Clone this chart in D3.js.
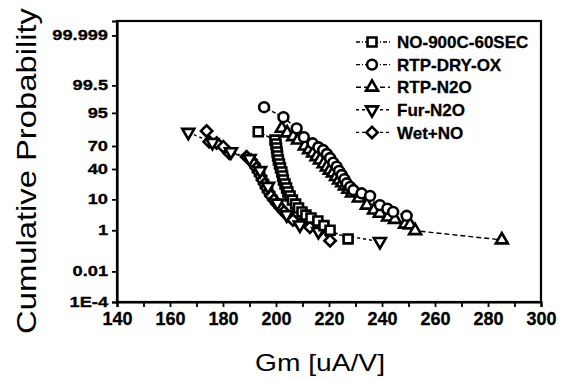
<!DOCTYPE html>
<html>
<head>
<meta charset="utf-8">
<script src="https://cdn.jsdelivr.net/npm/d3@7"></script>
<style>
  body { margin: 0; background: #fff; }
  svg { display: block; font-family: "Liberation Sans", Arial, sans-serif; }
</style>
</head>
<body>
<svg id="drawing_region"></svg>
<script>
// ---- data (Gm in uA/V, probability in %) ----
const seriesNames = ["NO-900C-60SEC", "RTP-DRY-OX", "RTP-N2O", "Fur-N2O", "Wet+NO"];

const no900Gm   = [193.3, 199.6, 200.0, 200.2, 200.4, 200.6, 200.9, 201.3, 201.7, 202.2, 202.5, 202.8, 203.4, 204.0, 204.5, 205.3, 206.2, 207.4, 208.5, 209.8, 211.3, 213.2, 215.8, 218.1, 220.4, 227.2];
const no900Prob = [84.3, 76.6, 72.3, 67.6, 62.6, 57.4, 52.0, 46.6, 41.3, 36.1, 31.2, 26.6, 22.3, 18.5, 15.1, 12.2, 9.6, 7.5, 5.8, 4.4, 3.5, 2.8, 2.2, 1.5, 1.0, 0.44];

const dryGm   = [195.5, 202.8, 207.8, 210.5, 213.8, 216.0, 217.8, 219.2, 220.4, 221.6, 222.9, 223.8, 224.8, 225.8, 226.7, 228.0, 229.2, 232.3, 235.5, 239.2, 242.0, 244.2, 249.3];
const dryProb = [96.7, 93.3, 86.9, 79.5, 73.1, 68.5, 65.1, 60.0, 54.7, 48.5, 43.0, 37.5, 32.4, 27.5, 23.0, 19.5, 16.7, 14.1, 12.2, 7.0, 5.5, 4.4, 3.3];

const rtpN2oGm   = [202.2, 204.2, 206.5, 208.3, 210.9, 212.5, 214.0, 215.3, 216.6, 218.0, 219.2, 220.3, 221.5, 222.7, 223.8, 225.0, 226.0, 227.3, 228.7, 231.3, 234.3, 237.0, 239.2, 242.3, 244.9, 248.7, 250.6, 252.5, 285.2];
const rtpN2oProb = [86.9, 83.3, 80.0, 76.6, 70.0, 65.5, 61.3, 56.5, 52.0, 47.0, 42.6, 38.5, 34.9, 30.5, 26.6, 23.5, 20.4, 17.3, 14.3, 10.8, 7.0, 5.0, 4.0, 3.0, 2.5, 1.7, 1.6, 0.96, 0.40];

const furN2oGm   = [166.9, 176.0, 183.0, 190.0, 194.0, 197.0, 200.5, 204.0, 209.0, 216.0, 239.2];
const furN2oProb = [83.8, 74.0, 63.0, 54.0, 38.0, 20.0, 8.0, 3.6, 1.6, 0.9, 0.34];

const wetGm   = [173.8, 174.8, 177.6, 180.1, 182.4, 188.9, 190.6, 191.7, 192.6, 193.4, 194.2, 194.9, 195.7, 196.4, 197.2, 198.1, 199.2, 200.4, 201.7, 203.0, 204.5, 206.4, 209.1, 212.8, 216.6, 220.4];
const wetProb = [84.9, 74.9, 73.4, 69.2, 60.9, 56.4, 52.0, 46.6, 41.3, 36.1, 31.2, 26.6, 22.3, 18.5, 15.1, 12.2, 9.6, 7.5, 5.8, 4.4, 3.3, 2.4, 1.7, 1.3, 1.0, 0.37];

const xTicks = [140, 160, 180, 200, 220, 240, 260, 280, 300];
const yTicks = [1e-4, 0.01, 1, 10, 40, 70, 95, 99.5, 99.999];
const yTickLabels = ["1E-4", "0.01", "1", "10", "40", "70", "95", "99.5", "99.999"];

// inverse normal CDF (Acklam)
function probit(p) {
    const a = [-3.969683028665376e+01, 2.209460984245205e+02, -2.759285104469687e+02, 1.383577518672690e+02, -3.066479806614716e+01, 2.506628277459239e+00];
    const b = [-5.447609879822406e+01, 1.615858368580409e+02, -1.556989798598866e+02, 6.680131188771972e+01, -1.328068155288572e+01];
    const c = [-7.784894002430293e-03, -3.223964580411365e-01, -2.400758277161838e+00, -2.549671033907137e+00, 4.374664141464968e+00, 2.938163982698783e+00];
    const d = [7.784695709041462e-03, 3.224671290700398e-01, 2.445134137142996e+00, 3.754408661907416e+00];
    const pl = 0.02425;
    if (p < pl) {
        const q = Math.sqrt(-2 * Math.log(p));
        return (((((c[0]*q+c[1])*q+c[2])*q+c[3])*q+c[4])*q+c[5]) / ((((d[0]*q+d[1])*q+d[2])*q+d[3])*q+1);
    }
    if (p <= 1 - pl) {
        const q = p - 0.5, r = q * q;
        return (((((a[0]*r+a[1])*r+a[2])*r+a[3])*r+a[4])*r+a[5])*q / (((((b[0]*r+b[1])*r+b[2])*r+b[3])*r+b[4])*r+1);
    }
    const q = Math.sqrt(-2 * Math.log(1 - p));
    return -(((((c[0]*q+c[1])*q+c[2])*q+c[3])*q+c[4])*q+c[5]) / ((((d[0]*q+d[1])*q+d[2])*q+d[3])*q+1);
}

const series = [
    { name: seriesNames[0], gm: no900Gm,  prob: no900Prob,  shape: 'square',   dash: '4,2,1,2' },
    { name: seriesNames[1], gm: dryGm,    prob: dryProb,    shape: 'circle',   dash: '4,2,1,2' },
    { name: seriesNames[2], gm: rtpN2oGm, prob: rtpN2oProb, shape: 'triangle', dash: '5,3' },
    { name: seriesNames[3], gm: furN2oGm, prob: furN2oProb, shape: 'down',     dash: '3,3' },
    { name: seriesNames[4], gm: wetGm,    prob: wetProb,    shape: 'diamond',  dash: '3,3' }
];

class ProbPlot {

    constructor( config, data ) {
        this.config = config;
        this.data = data;
        this.init();
    }

    init() {
        let self = this;
        const m = self.config.margin;

        self.svg = d3.select( self.config.parent )
            .attr('width', self.config.width)
            .attr('height', self.config.height);

        self.inner_width = self.config.width - m.left - m.right;
        self.inner_height = self.config.height - m.top - m.bottom;

        self.chart = self.svg.append('g')
            .attr('transform', `translate(${m.left}, ${m.top})`);

        self.xscale = d3.scaleLinear()
            .domain([140, 300])
            .range([0, self.inner_width]);

        // probability axis: linear in the normal quantile
        const zmax = -probit(1e-6);
        self.zscale = d3.scaleLinear()
            .domain([-zmax, zmax])
            .range([self.inner_height, 0]);
        self.yscale = p => self.zscale( probit(p / 100) );

        self.xaxis = d3.axisBottom( self.xscale )
            .tickValues(d3.range(140, 301, 10))
            .tickSize(5)
            .tickPadding(5)
            .tickFormat(d => xTicks.includes(d) ? d : '');
        self.xaxis_group = self.chart.append('g')
            .attr('transform', `translate(0, ${self.inner_height})`);

        self.yaxis = d3.axisLeft( self.zscale )
            .tickValues(yTicks.map(p => probit(p / 100)))
            .tickSize(5)
            .tickPadding(4)
            .tickFormat((d, i) => yTickLabels[i]);
        self.yaxis_group = self.chart.append('g');

        // frame
        self.chart.append('rect')
            .attr('width', self.inner_width)
            .attr('height', self.inner_height)
            .attr('fill', 'none')
            .attr('stroke', '#000')
            .attr('stroke-width', 2.2);

        self.svg.append('text')
            .attr('x', 320)
            .attr('y', 371)
            .attr('text-anchor', 'middle')
            .attr('font-size', '24px')
            .attr('textLength', 130)
            .attr('lengthAdjust', 'spacingAndGlyphs')
            .text('Gm [uA/V]');

        self.svg.append('text')
            .attr('transform', 'translate(36, 171) rotate(-90)')
            .attr('text-anchor', 'middle')
            .attr('font-size', '28px')
            .attr('textLength', 326)
            .attr('lengthAdjust', 'spacingAndGlyphs')
            .text('Cumulative Probability');
    }

    marker( sel, shape ) {
        const sym = {
            square: d3.symbol(d3.symbolSquare, 80),
            circle: d3.symbol(d3.symbolCircle, 76),
            triangle: d3.symbol(d3.symbolTriangle, 62),
            down: d3.symbol(d3.symbolTriangle, 62),
            diamond: d3.symbol(d3.symbolSquare, 64)
        }[shape];
        const rot = shape === 'down' ? 180 : shape === 'diamond' ? 45 : 0;
        sel.append('path')
            .attr('d', sym())
            .attr('transform', d => `translate(${d[0]}, ${d[1]}) rotate(${rot})`)
            .attr('fill', '#fff')
            .attr('stroke', '#000')
            .attr('stroke-width', 2.6);
    }

    update() {
        let self = this;
        self.render();
    }

    render() {
        let self = this;

        const line = d3.line()
            .x( d => self.xscale(d[0]) )
            .y( d => self.yscale(d[1]) );

        self.data.forEach( s => {
            const pts = s.gm.map((g, i) => [g, s.prob[i]]);
            self.chart.append('path')
                .attr('d', line(pts))
                .attr('fill', 'none')
                .attr('stroke', '#000')
                .attr('stroke-width', 1.4)
                .attr('stroke-dasharray', s.dash);
        });

        // markers drawn on top, last series underneath first
        self.data.slice().reverse().forEach( s => {
            const g = self.chart.append('g');
            const pts = s.gm.map((v, i) => [self.xscale(v), self.yscale(s.prob[i])]);
            g.selectAll('g')
                .data(pts)
                .enter()
                .append('g')
                .call(sel => self.marker(sel, s.shape));
        });

        // legend
        const legend = self.svg.append('g');
        self.data.forEach( (s, i) => {
            const y = 42 + i * 22.6;
            legend.append('line')
                .attr('x1', 356).attr('x2', 390)
                .attr('y1', y).attr('y2', y)
                .attr('stroke', '#000')
                .attr('stroke-width', 1.4)
                .attr('stroke-dasharray', s.dash);
            legend.append('g')
                .data([[372, y]])
                .call(sel => self.marker(sel, s.shape));
            legend.append('text')
                .attr('x', 397)
                .attr('y', y)
                .attr('dy', '0.36em')
                .attr('font-size', '17px')
                .attr('font-weight', 'bold')
                .attr('stroke', '#000')
                .attr('stroke-width', 0.3)
                .text(s.name);
        });

        self.xaxis_group.call( self.xaxis );
        self.yaxis_group.call( self.yaxis );

        [self.xaxis_group, self.yaxis_group].forEach( g => {
            g.select('.domain').attr('stroke-width', 2.2);
            g.selectAll('.tick line').attr('stroke-width', 1.8);
            g.selectAll('.tick text')
                .attr('font-family', '"Liberation Sans", Arial, sans-serif')
                .attr('font-weight', 'bold')
                .attr('fill', '#000')
                .attr('stroke', '#000')
                .attr('stroke-width', 0.3);
        });
        self.xaxis_group.selectAll('.tick text').attr('font-size', '18px');
        self.yaxis_group.selectAll('.tick text')
            .attr('font-size', '14px')
            .each(function() {
                const w = this.getComputedTextLength();
                d3.select(this)
                    .attr('textLength', w * 1.3)
                    .attr('lengthAdjust', 'spacingAndGlyphs');
            });
    }
}

const config = {
    parent: '#drawing_region',
    width: 570,
    height: 381,
    margin: {top: 21, right: 29, bottom: 79, left: 117}
};

const plot = new ProbPlot( config, series );
plot.update();
</script>
</body>
</html>
